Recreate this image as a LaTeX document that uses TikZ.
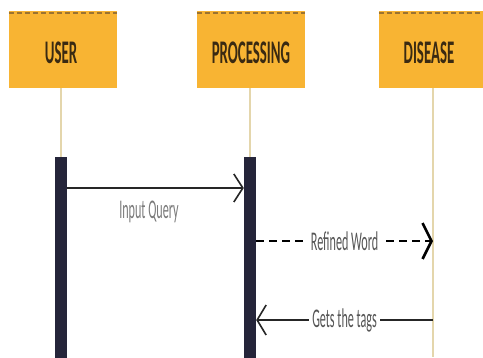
\documentclass[tikz,border=0pt]{standalone}
\usepackage{fontspec}
\setmainfont{Carlito}
\usetikzlibrary{arrows.meta}
\definecolor{boxorange}{HTML}{F8B433}
\definecolor{dashbrown}{HTML}{9C7330}
\definecolor{barnavy}{HTML}{25253A}
\definecolor{lifecol}{HTML}{E4D6AC}
\definecolor{labelgray}{HTML}{555555}
\definecolor{lightlabel}{HTML}{7A7A7A}
\definecolor{titlebrown}{HTML}{3A2A12}
\newcommand{\actortext}[1]{\scalebox{0.45}[1]{\fontsize{33}{33}\selectfont\bfseries #1}}
\newcommand{\msgtext}[1]{\scalebox{0.45}[1]{\fontsize{27}{27}\selectfont #1}}
\begin{document}
\begin{tikzpicture}[x=1pt,y=-1pt,
  actor/.style={fill=boxorange, minimum width=108pt, minimum height=77pt, inner sep=0pt, text=titlebrown},
  atitle/.style={text=titlebrown, inner sep=0pt},
  topdash/.style={draw=dashbrown, line width=1.4pt, dash pattern=on 5pt off 3pt},
  actbar/.style={fill=barnavy, minimum width=12pt, minimum height=205pt, inner sep=0pt},
  life/.style={draw=lifecol, line width=1.2pt},
  msg/.style={draw=black!85, line width=2pt, -{Straight Barb[length=9pt,width=28pt,line width=1.6pt]}},
  dmsg/.style={draw=black, line width=2.8pt, dash pattern=on 8pt off 5pt, -{Straight Barb[length=9pt,width=36pt,line width=2.6pt]}},
  rmsg/.style={draw=black!85, line width=2.6pt, -{Straight Barb[length=9pt,width=30pt,line width=1.6pt]}},
  lbl/.style={text=labelgray, inner sep=0pt, inner xsep=3pt}
]
\useasboundingbox (0,0) rectangle (483,357);
\clip (0,0) rectangle (483,357);
\fill[white] (0,0) rectangle (483,357);

% actors
\node[actor] (user) at (63,49.5) {};
\node[actor] (proc) at (251,49.5) {};
\node[actor] (dis) at (433,49.5) {};
\node[atitle] (usert) at (61,53) {\actortext{USER}};
\node[atitle] (proct) at (251,53) {\actortext{PROCESSING}};
\node[atitle] (dist) at (429,53) {\actortext{DISEASE}};
\draw[topdash] ([yshift=-2pt]user.north west) -- ([yshift=-2pt]user.north east);
\draw[topdash] ([yshift=-2pt]proc.north west) -- ([yshift=-2pt]proc.north east);
\draw[topdash] ([yshift=-2pt]dis.north west) -- ([yshift=-2pt]dis.north east);

% activation bars
\node[actbar] (ubar) at (61,259.5) {};
\node[actbar] (pbar) at (250,259.5) {};
\coordinate (dend) at (433,357);

% lifelines
\draw[life] (user.south -| ubar.north) -- (ubar.north);
\draw[life] (proc.south -| pbar.north) -- (pbar.north);
\draw[life] (dis.south) -- (dend);

% message levels
\coordinate (y1) at (0,188);
\coordinate (y2) at (0,241);
\coordinate (y3) at (0,320);

\draw[msg] (ubar.east |- y1) -- (pbar.west |- y1);
\node[lbl, text=lightlabel] (lq) at (149,212) {\msgtext{Input Query}};

\draw[dmsg] (pbar.east |- y2) -- node[lbl, fill=white] (lr) {\msgtext{Refined Word}} (dis.south |- y2);

\draw[rmsg] (dis.south |- y3) -- node[lbl, fill=white] (lg) {\msgtext{Gets the tags}} (pbar.east |- y3);
\end{tikzpicture}
\end{document}
